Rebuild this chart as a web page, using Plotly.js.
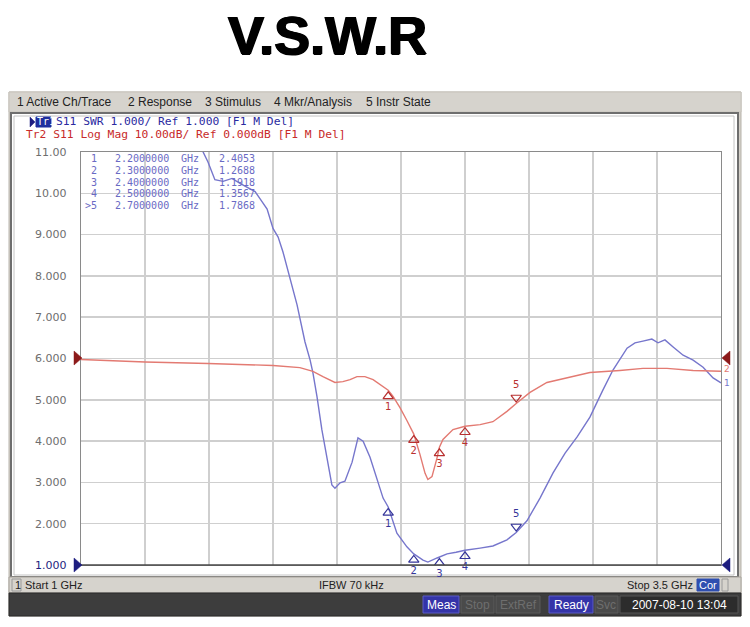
<!DOCTYPE html>
<html><head><meta charset="utf-8">
<script src="https://cdn.plot.ly/plotly-3.0.1.min.js"></script>
<style>html,body{margin:0;padding:0;background:#fff;}#chart{width:750px;height:627px;}</style>
</head><body><div id="chart"></div>
<script>
// ---- data ----
const freqSWR = [1.460,1.477,1.496,1.523,1.555,1.590,1.621,1.680,1.699,1.727,1.750,1.770,1.789,1.816,1.844,1.875,1.895,1.906,1.922,1.941,1.961,1.980,1.992,2.012,2.031,2.059,2.082,2.102,2.129,2.156,2.180,2.200,2.234,2.273,2.300,2.336,2.355,2.391,2.400,2.430,2.465,2.500,2.559,2.609,2.664,2.700,2.742,2.793,2.844,2.891,2.938,2.988,3.039,3.078,3.133,3.164,3.195,3.230,3.254,3.281,3.313,3.352,3.391,3.430,3.469,3.500];
const swr     = [11.4,11.0,10.76,10.33,10.29,10.36,10.24,10.04,9.87,9.62,9.15,8.94,8.58,7.95,7.30,6.40,5.96,5.65,5.07,4.27,3.54,2.94,2.86,2.99,3.03,3.49,4.08,4.00,3.61,3.08,2.62,2.405,1.77,1.44,1.269,1.12,1.07,1.17,1.192,1.27,1.31,1.357,1.41,1.46,1.61,1.787,2.07,2.62,3.23,3.71,4.10,4.58,5.24,5.72,6.25,6.38,6.42,6.47,6.38,6.45,6.28,6.08,5.96,5.79,5.53,5.41];
const freqLM  = [1.000,1.250,1.496,1.750,1.855,1.906,1.945,1.992,2.023,2.051,2.078,2.109,2.141,2.180,2.200,2.219,2.246,2.273,2.300,2.324,2.344,2.355,2.371,2.391,2.400,2.414,2.453,2.500,2.559,2.609,2.664,2.700,2.754,2.820,2.898,2.988,3.105,3.195,3.289,3.391,3.500];
const logMag  = [-0.24,-0.85,-1.2,-1.7,-2.2,-3.1,-4.4,-5.8,-5.6,-5.1,-4.4,-4.4,-5.1,-6.8,-7.7,-9.2,-11.9,-15.0,-18.3,-23.2,-27.8,-29.3,-28.6,-24.0,-21.5,-19.6,-17.2,-16.4,-16.0,-15.3,-12.8,-10.9,-8.2,-5.8,-4.6,-3.4,-2.9,-2.4,-2.4,-2.9,-3.1];
const markerNum  = ['1','2','3','4','5'];
const markerFreq = [2.2,2.3,2.4,2.5,2.7];
const markerSWR  = [2.4053,1.2688,1.1918,1.3567,1.7868];
const markerDB   = [-7.7,-18.3,-21.5,-16.4,-10.9];
const yTickVals  = [1,2,3,4,5,6,7,8,9,10,11];
const yTickText  = ['1.000','2.000','3.000','4.000','5.000','6.000','7.000','8.000','9.000','10.00','11.00'];
const xGrid      = [1,1.25,1.5,1.75,2,2.25,2.5,2.75,3,3.25,3.5];

// ---- geometry helpers (pixel -> paper) ----
const L=81,R=721,T=152,B=565,W=750,H=627;
const px = x => (x-L)/(R-L);
const py = y => (B-y)/(B-T);
const swrPerPx = 10/(B-T), dbPerPx = 100/(B-T);

const BLUE='#7676cc', RED='#e37a72', MBLUE='#35359a', MRED='#b83030';

const traces = [
  {x:freqLM, y:logMag, yaxis:'y2', type:'scatter', mode:'lines', line:{color:RED,width:1.4}, hoverinfo:'skip'},
  {x:freqSWR, y:swr, type:'scatter', mode:'lines', line:{color:BLUE,width:1.4}, hoverinfo:'skip'},
  {x:markerFreq.slice(0,4), y:markerSWR.slice(0,4).map(v=>v-6*swrPerPx), text:markerNum.slice(0,4), type:'scatter', mode:'markers+text',
   marker:{symbol:'triangle-up-open',size:9,color:MBLUE,line:{width:1.2}}, textposition:'bottom center', textfont:{family:'DejaVu Sans',size:10,color:MBLUE}, cliponaxis:false, hoverinfo:'skip'},
  {x:markerFreq.slice(4), y:markerSWR.slice(4).map(v=>v+6*swrPerPx), text:markerNum.slice(4), type:'scatter', mode:'markers+text',
   marker:{symbol:'triangle-down-open',size:9,color:MBLUE,line:{width:1.2}}, textposition:'top center', textfont:{family:'DejaVu Sans',size:10,color:MBLUE}, cliponaxis:false, hoverinfo:'skip'},
  {x:markerFreq.slice(0,4), y:markerDB.slice(0,4).map(v=>v-6*dbPerPx), yaxis:'y2', text:markerNum.slice(0,4), type:'scatter', mode:'markers+text',
   marker:{symbol:'triangle-up-open',size:9,color:MRED,line:{width:1.2}}, textposition:'bottom center', textfont:{family:'DejaVu Sans',size:10,color:MRED}, cliponaxis:false, hoverinfo:'skip'},
  {x:markerFreq.slice(4), y:markerDB.slice(4).map(v=>v+6*dbPerPx), yaxis:'y2', text:markerNum.slice(4), type:'scatter', mode:'markers+text',
   marker:{symbol:'triangle-down-open',size:9,color:MRED,line:{width:1.2}}, textposition:'top center', textfont:{family:'DejaVu Sans',size:10,color:MRED}, cliponaxis:false, hoverinfo:'skip'},
  {x:markerFreq, y:markerFreq.map(()=>1-5*swrPerPx), type:'scatter', mode:'markers',
   marker:{symbol:markerNum.map((n,i)=>i===4?'triangle-up':'triangle-up-open'),size:10,color:'#23238a',line:{width:1.2,color:'#23238a'}}, cliponaxis:false, hoverinfo:'skip'}
];

const shapes = [];
function rect(x0,y0,x1,y1,fill,line,lw,layer){shapes.push({type:'rect',xref:'paper',yref:'paper',x0:px(x0),x1:px(x1),y0:py(y1),y1:py(y0),fillcolor:fill,line:{color:line||'rgba(0,0,0,0)',width:lw||0},layer:layer||'below'});}
function tri(pts,color){shapes.push({type:'path',xref:'paper',yref:'paper',path:'M'+pts.map(p=>px(p[0])+','+py(p[1])).join(' L')+' Z',fillcolor:color,line:{color:color,width:0.5},layer:'above'});}

rect(9,92,741,616,'#d4d0c8','#b8b4ac',1);
rect(9,92,741,112,'#d6d3cd','#c8c4bc',1);
rect(11,113,738,577,'#ffffff','#6e6e6e',2);
rect(14,116,734,575,'rgba(0,0,0,0)','#c4c4c4',1);
rect(9,577,741,593,'#d6d3cd','#a8a49c',1);
rect(9,593,741,616,'#3d3d3d','#2a2a2a',1);
rect(12,579,21,591,'rgba(0,0,0,0)','#9a9a9a',1);
rect(697,579,719,591,'#2f4fb0','#2f4fb0',1);
rect(722,579,728,591,'rgba(0,0,0,0)','#9a9a9a',1);
rect(423,596,459,613,'#3434a8','#5a5ac8',1);
rect(461,596,494,613,'#4a4a4a','#5a5a5a',1);
rect(496,596,540,613,'#4a4a4a','#5a5a5a',1);
rect(549,596,593,613,'#3434a8','#5a5ac8',1);
rect(595,596,618,613,'#4a4a4a','#5a5a5a',1);
rect(620,596,738,613,'#2c2c2c','#555555',1);
rect(36,117,51,127,'#1f2f9e','#1f2f9e',1);
shapes.push({type:'line',xref:'paper',yref:'paper',x0:0,x1:1,y0:0,y1:0,line:{color:'#4a4a4a',width:1.5},layer:'above'});
tri([[74,351],[82,358],[74,365]],'#8c1a1a');
tri([[730,351],[722,358],[730,365]],'#8c1a1a');
tri([[74,558],[82,565],[74,572]],'#1e1e80');
tri([[730,558],[722,565],[730,572]],'#1e1e80');
tri([[30,117],[35,122],[30,127]],'#1e1e80');

const ann = [];
function txt(x,y,text,o){ann.push(Object.assign({xref:'paper',yref:'paper',x:px(x),y:py(y),text:text,showarrow:false,xanchor:'left',yanchor:'middle',borderpad:0,font:{family:'Liberation Sans',size:12,color:'#222'}},o||{}));}

txt(327,35,'<b>V.S.W.R</b>',{xanchor:'center',font:{family:'Liberation Sans',size:54,color:'#000',shadow:'0.9px 0 0 #000, -0.9px 0 0 #000, 0 0.7px 0 #000'}});
txt(16,102,'1 Active Ch/Trace');
txt(127,102,'2 Response');
txt(204,102,'3 Stimulus');
txt(273,102,'4 Mkr/Analysis');
txt(365,102,'5 Instr State');
const mono = {family:'DejaVu Sans Mono',size:11.3};
txt(36,122,'Tr1',{font:{family:'DejaVu Sans Mono',size:10,color:'#ffffff'}});
txt(55,122,'S11 SWR 1.000/ Ref 1.000 [F1 M Del]',{font:Object.assign({color:'#2a2aa0'},mono)});
txt(25,134,'Tr2 S11 Log Mag 10.00dB/ Ref 0.000dB [F1 M Del]',{font:Object.assign({color:'#c82a2a'},mono)});
// marker table, one text per column
const tf = {family:'DejaVu Sans Mono',size:10,color:'#6a6ac4'};
markerNum.forEach((n,i)=>{
  const y = 159+11.5*i;
  txt(98,y,(i===4?'>':'')+n,{xanchor:'right',font:tf});
  txt(114,y,markerFreq[i].toFixed(7),{font:tf});
  txt(180,y,'GHz',{font:tf});
  txt(218,y,markerSWR[i].toFixed(4),{font:tf});
});
txt(723,369,'2',{font:{family:'DejaVu Sans',size:9,color:RED}});
txt(723,383,'1',{font:{family:'DejaVu Sans',size:9,color:BLUE}});
txt(14,585,'1',{font:{family:'Liberation Sans',size:11,color:'#222'}});
txt(24,585,'Start 1 GHz',{font:{family:'Liberation Sans',size:11,color:'#222'}});
txt(351,585,'IFBW 70 kHz',{xanchor:'center',font:{family:'Liberation Sans',size:11,color:'#222'}});
txt(694,585,'Stop 3.5 GHz',{xanchor:'right',font:{family:'Liberation Sans',size:11,color:'#222'}});
txt(708,585,'Cor',{xanchor:'center',font:{family:'Liberation Sans',size:11,color:'#ffffff'}});
const bf = c=>({family:'Liberation Sans',size:12,color:c});
txt(441,605,'Meas',{xanchor:'center',font:bf('#ffffff')});
txt(477,605,'Stop',{xanchor:'center',font:bf('#6e6e6e')});
txt(518,605,'ExtRef',{xanchor:'center',font:bf('#6e6e6e')});
txt(571,605,'Ready',{xanchor:'center',font:bf('#ffffff')});
txt(606,605,'Svc',{xanchor:'center',font:bf('#6e6e6e')});
txt(679,605,'2007-08-10 13:04',{xanchor:'center',font:bf('#ffffff')});

const layout = {
  width:W, height:H,
  margin:{l:L, r:W-R, t:T, b:H-B, pad:0},
  paper_bgcolor:'#ffffff', plot_bgcolor:'rgba(0,0,0,0)',
  showlegend:false,
  xaxis:{range:[1,3.5], tickvals:xGrid, showticklabels:false, ticks:'', showgrid:true, gridcolor:'#cfcfcf', gridwidth:1.5,
         showline:true, linecolor:'#8a8a8a', linewidth:1.2, mirror:true, zeroline:false, fixedrange:true},
  yaxis:{range:[1,11], tickvals:yTickVals, ticktext:yTickText.map((t,i)=>i===0?'<span style="color:#1e1e80">'+t+'</span>':t),
         ticks:'', ticklabelstandoff:11, tickfont:{family:'DejaVu Sans',size:11,color:'#6e6e6e'},
         showgrid:true, gridcolor:'#cfcfcf', gridwidth:1.5, showline:true, linecolor:'#8a8a8a', linewidth:1.2, mirror:true, zeroline:false, fixedrange:true},
  yaxis2:{range:[-50,50], overlaying:'y', side:'right', showticklabels:false, showgrid:false, zeroline:false, ticks:'', fixedrange:true},
  shapes:shapes, annotations:ann
};
Plotly.newPlot('chart', traces, layout, {displayModeBar:false, staticPlot:true});
</script></body></html>
